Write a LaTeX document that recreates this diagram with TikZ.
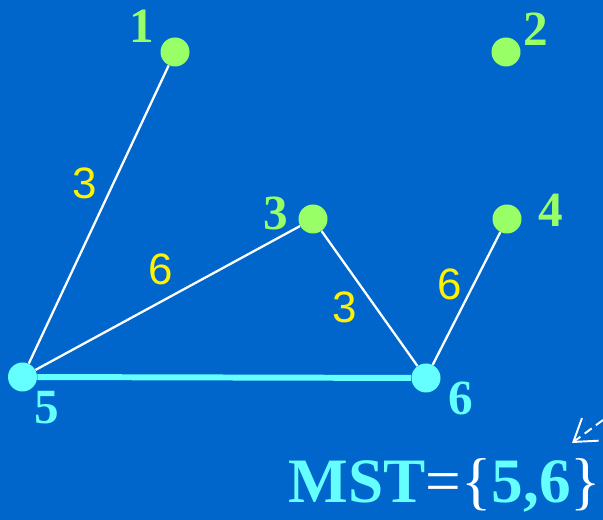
\documentclass[tikz,border=0pt]{standalone}
\usepackage{fontspec}
\setmainfont{Liberation Serif}
\setsansfont{Liberation Sans}
\usepackage{tikz}
\usetikzlibrary{arrows.meta}

\definecolor{bgblue}{RGB}{0,102,204}
\definecolor{vgreen}{RGB}{153,255,102}
\definecolor{vcyan}{RGB}{102,255,255}

\begin{document}
\begin{tikzpicture}[
        vert/.style={circle, inner sep=0pt, minimum size=0.58cm},
        num/.style={font=\fontsize{28}{28}\selectfont\bfseries, inner sep=0pt},
        wt/.style={font=\sffamily\fontsize{25}{25}\selectfont, text=yellow, inner sep=0pt},
        link/.style={white, line width=1.3pt}]
        \fill[bgblue] (0,0) rectangle (12.06,10.4);
        \useasboundingbox (0,0) rectangle (12.06,10.4);

        \node[vert, fill=vgreen] (v1) at (3.5, 9.36) {};
        \node[vert, fill=vgreen] (v2) at (10.12, 9.36) {};
        \node[vert, fill=vgreen] (v3) at (6.26, 6.02) {};
        \node[vert, fill=vgreen] (v4) at (10.14, 6.02) {};
        \node[vert, fill=vcyan] (v5) at (0.45, 2.86) {};
        \node[vert, fill=vcyan] (v6) at (8.52, 2.84) {};

        \node[num, text=vgreen] (l1) at (2.84, 9.88) {1};
        \node[num, text=vgreen] (l2) at (10.72, 9.82) {2};
        \node[num, text=vgreen] (l3) at (5.52, 6.14) {3};
        \node[num, text=vgreen] (l4) at (11.02, 6.2) {4};
        \node[num, text=vcyan] (l5) at (0.94, 2.24) {5};
        \node[num, text=vcyan] (l6) at (9.22, 2.44) {6};

        \draw[link] (v1) -- (v5);
        \draw[link] (v5) -- (v3);
        \draw[link] (v3) -- (v6);
        \draw[link] (v6) -- (v4);
        \draw[vcyan, line width=3.4pt] (v5) -- (v6);

        \node[wt] (w15) at (1.7, 6.74) {3};
        \node[wt] (w35) at (3.22, 5.02) {6};
        \node[wt] (w36) at (6.9, 4.26) {3};
        \node[wt] (w46) at (9.0, 4.72) {6};

        \node[anchor=base, inner sep=0pt, font=\fontsize{36}{36}\selectfont] (mst) at (8.9, 0.34)
            {\textcolor{vcyan}{\bfseries MST}\textcolor{white}{=\{}\textcolor{vcyan}{\bfseries 5,6}\textcolor{white}{\}}};
        \coordinate (from) at (12.06, 2.0);
        \coordinate (to) at (11.44, 1.54);
        \draw[white, line width=1.1pt, dash pattern=on 5pt off 3pt,
            -{Straight Barb[length=12pt, width=16pt]}] (from) -- (to);
    \end{tikzpicture}
\end{document}
